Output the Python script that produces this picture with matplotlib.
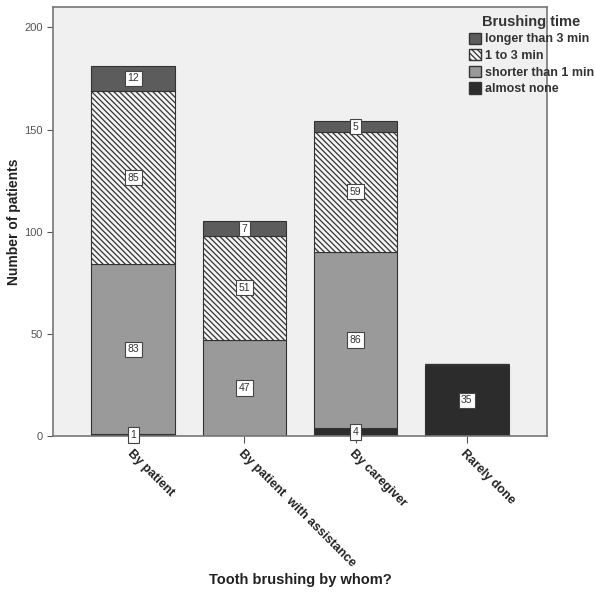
import matplotlib
matplotlib.use('Agg')
from matplotlib import pyplot as plt
from matplotlib.patches import Patch
import numpy as np

categories = ['By patient', 'By patient  with assistance', 'By caregiver', 'Rarely done']
almost_none = [1, 0, 4, 35]
shorter_1 = [83, 47, 86, 0]
one_to_3 = [85, 51, 59, 0]
longer_3 = [12, 7, 5, 0]

series = [
    ('almost none', almost_none, '#2c2c2c', None),
    ('shorter than 1 min', shorter_1, '#9a9a9a', None),
    ('1 to 3 min', one_to_3, '#f4f4f4', '\\' * 6),
    ('longer than 3 min', longer_3, '#5c5c5c', None),
]

plt.rcParams['font.family'] = ['Liberation Sans', 'DejaVu Sans']
plt.rcParams['hatch.color'] = '#707070'
plt.rcParams['hatch.linewidth'] = 0.9

fig = plt.figure(figsize=(5.95, 5.95), dpi=100)
ax = fig.add_axes([53 / 595, 1 - 436 / 595, 494 / 595, 429 / 595])
ax.set_facecolor('#f0f0f0')

x = np.arange(len(categories))
bottom = np.zeros(len(categories))
for name, vals, color, hatch in series:
    vals = np.array(vals, dtype=float)
    ax.bar(x, vals, 0.75, bottom=bottom, color=color, hatch=hatch,
           edgecolor='#333333', linewidth=0.8)
    for xi, b, v in zip(x, bottom, vals):
        if v > 0:
            ax.text(xi, b + v / 2, '%d' % v, ha='center', va='center', fontsize=7.5,
                    color='#333333',
                    bbox=dict(boxstyle='square,pad=0.25', fc='white', ec='#444444', lw=0.8))
    bottom += vals

ax.set_xlim(-0.72, 3.72)
ax.set_ylim(0, 210)
ax.set_yticks([0, 50, 100, 150, 200])
ax.tick_params(axis='y', labelsize=8, labelcolor='#555555', length=4, color='#555555')
ax.tick_params(axis='x', length=5, color='#555555')
ax.set_xticks(x)
ax.set_xticklabels(categories, rotation=-45, ha='left', va='top', rotation_mode='anchor',
                   fontsize=9, fontweight='bold', color='#222222')
for s in ax.spines.values():
    s.set_color('#777777')
    s.set_linewidth(1.2)

ax.set_ylabel('Number of patients', fontsize=10, fontweight='bold', color='#222222')
ax.yaxis.set_label_coords(-0.064, 0.5)
fig.text(300 / 595, 1 - 580 / 595, 'Tooth brushing by whom?', ha='center', va='center',
         fontsize=10.5, fontweight='bold', color='#222222')

handles = [Patch(facecolor=c, hatch=h, edgecolor='#333333', label=n)
           for n, v, c, h in reversed(series)]
leg = fig.legend(handles=handles, title='Brushing time', loc='upper left',
                 bbox_to_anchor=(460 / 595, 1 - 6 / 595), frameon=False,
                 fontsize=9, title_fontsize=10.5, handlelength=1.0, handleheight=1.0,
                 handletextpad=0.3, labelspacing=0.3, borderpad=0.2)
for t in leg.get_texts():
    t.set_fontweight('bold')
    t.set_color('#333333')
leg.get_title().set_fontweight('bold')
leg.get_title().set_color('#333333')
leg._legend_box.align = 'center'

fig.savefig('out.png', dpi=100)
